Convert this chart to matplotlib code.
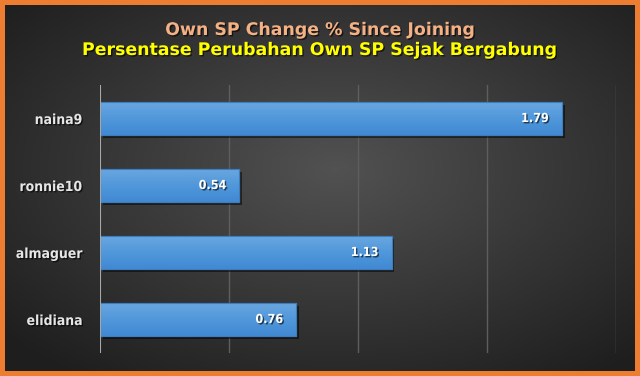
import numpy as np
import matplotlib.pyplot as plt
import matplotlib.patheffects as pe
from matplotlib.colors import LinearSegmentedColormap

# data
users = ["naina9", "ronnie10", "almaguer", "elidiana"]
change_pct = [1.79, 0.54, 1.13, 0.76]
title_en = "Own SP Change % Since Joining"
title_id = "Persentase Perubahan Own SP Sejak Bergabung"

W, H, DPI = 640, 376, 100
fig = plt.figure(figsize=(W / DPI, H / DPI), dpi=DPI)
fig.patch.set_facecolor("#ED7D31")

# dark radial background inside the orange frame
bg = fig.add_axes([5 / W, 5 / H, 630 / W, 366 / H])
yy, xx = np.mgrid[-1:1:200j, -1:1:340j]
r = np.sqrt(((xx - 0.05) * 0.9) ** 2 + ((yy + 0.1) * 0.9) ** 2)
shade = np.clip(0.32 - 0.16 * r, 0.12, 0.35)
bg.imshow(np.dstack([shade] * 3), aspect="auto", extent=[0, 1, 0, 1])
bg.set_axis_off()

# plot area: x 100..616 px, y 85..353 px (from top)
ax = fig.add_axes([100 / W, (H - 353) / H, 516 / W, 268 / H])
ax.patch.set_alpha(0)
y = np.arange(len(users))

for gx in [0.5, 1.0, 1.5, 2.0]:
    ax.axvline(gx, color="#5e5e5e", lw=1, zorder=0)
ax.axvline(0, color="#a8a8a8", lw=1.5, zorder=3)

shadow = [pe.SimplePatchShadow(offset=(2, -2), shadow_rgbFace="black", alpha=0.5), pe.Normal()]
bars = ax.barh(y, change_pct, height=0.5, color="#4F94D8", edgecolor="#3C7DBF",
               lw=0.8, zorder=2, path_effects=shadow)
# vertical gradient fill, lighter at the top
blue = LinearSegmentedColormap.from_list("bl", ["#6BA7E0", "#5198DB", "#4189D3"])
grad = np.linspace(0, 1, 64).reshape(-1, 1)
for b in bars:
    x0, y0, w, h = b.get_x(), b.get_y(), b.get_width(), b.get_height()
    im = ax.imshow(grad, cmap=blue, aspect="auto", extent=[x0, x0 + w, y0 + h, y0],
                   zorder=2.1, interpolation="bicubic")
    im.set_clip_path(b)
    ax.add_patch(plt.Rectangle((x0, y0), w, h, fill=False, edgecolor="#3C7DBF",
                               lw=0.8, zorder=2.2))
ax.set_xlim(0, 2)
ax.set_ylim(len(users) - 0.5, -0.5)

txt_shadow = [pe.withSimplePatchShadow(offset=(1, -1), shadow_rgbFace="black", alpha=0.6)]
for yi, v in zip(y, change_pct):
    ax.text(v - 0.05, yi, f"{v:.2f}", ha="right", va="center", color="white",
            fontsize=9, fontweight="bold", fontstretch="condensed", zorder=4,
            path_effects=txt_shadow)

ax.set_yticks(y)
ax.set_yticklabels(users)
ax.set_xticks([])
for lab in ax.get_yticklabels():
    lab.set_color("#e6e6e6")
    lab.set_fontweight("bold")
    lab.set_fontstretch("condensed")
    lab.set_fontsize(10)
    lab.set_path_effects(txt_shadow)
ax.tick_params(axis="y", length=0, pad=13)
for s in ax.spines.values():
    s.set_visible(False)

fig.text(0.5, 1 - 30 / H, title_en, ha="center", va="center", color="#F4B183",
         fontsize=12.5, fontweight="bold", path_effects=txt_shadow)
fig.text(0.5, 1 - 50 / H, title_id, ha="center", va="center", color="#FFFF00",
         fontsize=12.5, fontweight="bold", path_effects=txt_shadow)

fig.savefig("out.png", dpi=DPI, facecolor=fig.get_facecolor())
